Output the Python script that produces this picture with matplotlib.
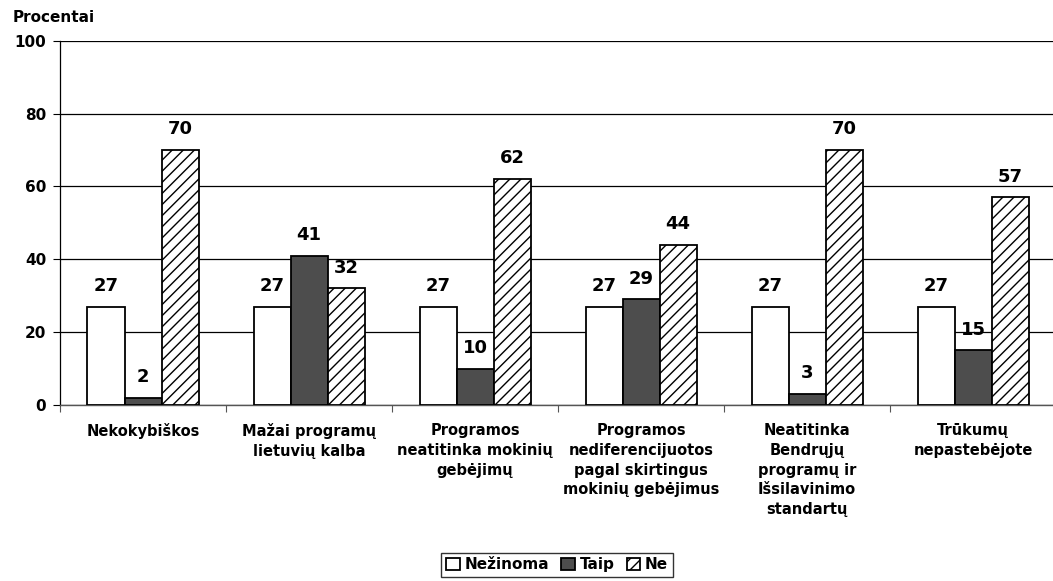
import matplotlib
matplotlib.use("Agg")
import matplotlib.pyplot as plt
import numpy as np

plt.rcParams['font.family'] = ['DejaVu Sans']
plt.rcParams['font.weight'] = 'bold'
plt.rcParams['hatch.linewidth'] = 1.0

categories = [
    "Nekokybiškos",
    "Mažai programų\nlietuvių kalba",
    "Programos\nneatitinka mokinių\ngebėjimų",
    "Programos\nnediferencijuotos\npagal skirtingus\nmokinių gebėjimus",
    "Neatitinka\nBendrųjų\nprogramų ir\nIšsilavinimo\nstandartų",
    "Trūkumų\nnepastebėjote",
]
series_names = ["Nežinoma", "Taip", "Ne"]
nezinoma = [27, 27, 27, 27, 27, 27]
taip = [2, 41, 10, 29, 3, 15]
ne = [70, 32, 62, 44, 70, 57]
yticks = [0, 20, 40, 60, 80, 100]

fig = plt.figure(figsize=(10.53, 5.81), dpi=100)
ax = fig.add_axes([0.057, 0.303, 0.946, 0.627])

x = np.arange(len(categories))
w = 0.223
styles = [
    dict(facecolor="white", hatch=None),
    dict(facecolor="#4d4d4d", hatch=None),
    dict(facecolor="white", hatch="///"),
]
for i, (vals, name, st) in enumerate(zip([nezinoma, taip, ne], series_names, styles)):
    bars = ax.bar(x + (i - 1) * w, vals, width=w, label=name,
                  facecolor=st["facecolor"], hatch=st["hatch"],
                  edgecolor="black", linewidth=1.3, zorder=3)
    for b, v in zip(bars, vals):
        ax.annotate(f"{v}", (b.get_x() + b.get_width() / 2, v),
                    xytext=(0, 8.5), textcoords="offset points",
                    ha="center", va="bottom", fontsize=13,
                    fontweight="bold", zorder=4)

ax.set_xlim(-0.5, len(categories) - 0.5)
ax.set_ylim(0, 100)
ax.set_yticks(yticks)
ax.set_yticklabels([str(t) for t in yticks], fontsize=11, fontweight="bold")
ax.yaxis.grid(True, color="black", linewidth=0.9, zorder=0)
ax.set_axisbelow(True)

# category labels centered, group separators as minor ticks
ax.set_xticks(x)
ax.set_xticklabels(categories, fontsize=10.5, fontweight="bold", linespacing=1.4, va="top")
ax.tick_params(axis="x", which="major", length=0, pad=13)
ax.set_xticks(np.arange(len(categories) + 1) - 0.5, minor=True)
ax.tick_params(axis="x", which="minor", length=5, width=0.8, color="#555555")
ax.tick_params(axis="y", length=5, width=0.8, pad=5)

for s in ["top", "right"]:
    ax.spines[s].set_visible(False)
ax.spines["left"].set_color("black")
ax.spines["left"].set_linewidth(0.9)
ax.spines["bottom"].set_color("#555555")
ax.spines["bottom"].set_linewidth(1.0)

fig.text(0.012, 0.982, "Procentai", fontsize=11, fontweight="bold", ha="left", va="top")

leg = fig.legend(loc="upper center", bbox_to_anchor=(0.529, 0.049), ncol=3,
                 frameon=True, fancybox=False, edgecolor="black",
                 handlelength=0.9, handleheight=0.9, handletextpad=0.3,
                 columnspacing=0.8, borderpad=0.3, borderaxespad=0,
                 prop=dict(size=11, weight="bold"))
leg.get_frame().set_linewidth(1.0)

fig.savefig("out.png", dpi=100)
